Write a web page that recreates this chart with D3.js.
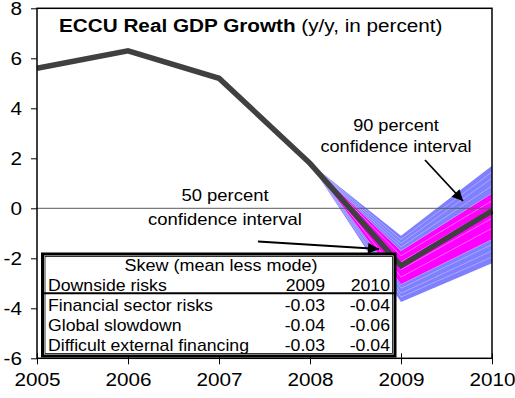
<!DOCTYPE html>
<html>
<head>
<meta charset="utf-8">
<script src="https://cdn.jsdelivr.net/npm/d3@7"></script>
<style>
  html, body { margin: 0; padding: 0; background: #ffffff; }
  svg { display: block; font-family: "Liberation Sans", Arial, sans-serif; }
</style>
</head>
<body>
<div id="chart"></div>
<script>
// ECCU real GDP growth, actuals and projection with fan of confidence bands
const years = [2005, 2006, 2007, 2008, 2009, 2010];
const growth = [5.6, 6.3, 5.2, 1.8, -2.3, -0.1];

// Fan chart quantiles (percent), for 2008, 2009, 2010
const fanYears = [2008, 2009, 2010];
const q05 = [1.8, -3.75, -2.2];
const q10 = [1.8, -3.55, -1.95];
const q15 = [1.8, -3.4, -1.7];
const q20 = [1.8, -3.2, -1.45];
const q25 = [1.8, -3.05, -1.25];
const q35 = [1.8, -2.75, -0.8];
const q45 = [1.8, -2.45, -0.4];
const q55 = [1.8, -2.15, 0.0];
const q65 = [1.8, -1.9, 0.3];
const q75 = [1.8, -1.7, 0.6];
const q80 = [1.8, -1.55, 0.9];
const q85 = [1.8, -1.4, 1.2];
const q90 = [1.8, -1.25, 1.45];
const q95 = [1.8, -1.1, 1.7];

// Axis ticks
const yTicks = [-6, -4, -2, 0, 2, 4, 6, 8];
const xTicks = [2005, 2006, 2007, 2008, 2009, 2010];

// Skew table
const skewTitle = "Skew (mean less mode)";
const skewHeader = ["Downside risks", "2009", "2010"];
const skewRisks = ["Financial sector risks", "Global slowdown", "Difficult external financing"];
const skew2009 = ["-0.03", "-0.04", "-0.03"];
const skew2010 = ["-0.04", "-0.06", "-0.04"];

const W = 515, H = 398;
const svg = d3.select("#chart").append("svg").attr("width", W).attr("height", H);

const x = d3.scaleLinear().domain([2005, 2010]).range([37, 492]);
const y = d3.scaleLinear().domain([-6, 8]).range([358.3, 8.3]);

// text with a slight horizontal widening, anchored at (px, py)
function txt(g, px, py, str, size, anchor, sx) {
  return g.append("text")
    .attr("transform", `translate(${px},${py}) scale(${sx},1)`)
    .attr("text-anchor", anchor)
    .attr("font-size", size)
    .attr("fill", "#000")
    .text(str);
}

const defs = svg.append("defs");
defs.append("marker")
  .attr("id", "arrowhead")
  .attr("viewBox", "0 0 10 10")
  .attr("refX", 10).attr("refY", 5)
  .attr("markerUnits", "userSpaceOnUse")
  .attr("markerWidth", 15).attr("markerHeight", 11)
  .attr("orient", "auto")
  .append("path").attr("d", "M0,0 L10,5 L0,10 Z").attr("fill", "#000");

// Fan bands: outer 90% (blue), inner 50% (magenta), each split into slices
const edges = [q05, q10, q15, q20, q25, q35, q45, q55, q65, q75, q80, q85, q90, q95];
const inner = new Set([4, 5, 6, 7, 8]); // slice indices inside the 50% interval
const area = d3.area()
  .x((d, i) => x(fanYears[i]))
  .y0(d => y(d[0]))
  .y1(d => y(d[1]));

const fan = svg.append("g");
for (let k = 0; k < edges.length - 1; k++) {
  const lo = edges[k], hi = edges[k + 1];
  const pts = fanYears.map((_, i) => [lo[i], hi[i]]);
  fan.append("path")
    .attr("d", area(pts))
    .attr("fill", inner.has(k) ? "#ff00ff" : "#8080ff")
    .attr("stroke", "none");
}
// faint lighter seams between slices
const seam = d3.line().x((d, i) => x(fanYears[i])).y(d => y(d));
edges.slice(1, -1).forEach((e, k) => {
  const isInner = k + 1 > 4 && k + 1 < 9;
  fan.append("path")
    .attr("d", seam(e))
    .attr("fill", "none")
    .attr("stroke", isInner ? "#ff70ff" : "#a8a8ff")
    .attr("stroke-width", 0.7);
});

// zero line
svg.append("line")
  .attr("x1", x(2005)).attr("x2", x(2010))
  .attr("y1", y(0)).attr("y2", y(0))
  .attr("stroke", "#5a5a5a").attr("stroke-width", 1);

// growth line
svg.append("path")
  .datum(years.map((yr, i) => [yr, growth[i]]))
  .attr("d", d3.line().x(d => x(d[0])).y(d => y(d[1])))
  .attr("fill", "none")
  .attr("stroke", "#404040")
  .attr("stroke-width", 5.5)
  .attr("stroke-linejoin", "miter");

// plot frame
svg.append("rect")
  .attr("x", x(2005)).attr("y", y(8))
  .attr("width", x(2010) - x(2005)).attr("height", y(-6) - y(8))
  .attr("fill", "none").attr("stroke", "#000").attr("stroke-width", 1.5);

// axes (plain hyphen for negatives)
const SX = 1.12;
const yAxis = d3.axisLeft(y).tickValues(yTicks).tickSize(6).tickPadding(9).tickFormat(d => String(d));
const gy = svg.append("g").attr("transform", `translate(${x(2005)},0)`).call(yAxis);
gy.select(".domain").remove();
gy.selectAll(".tick line").attr("stroke", "#000").attr("stroke-width", 1);
gy.selectAll(".tick text")
  .attr("font-size", 18.5).attr("fill", "#000")
  .attr("font-family", "Liberation Sans, Arial, sans-serif")
  .attr("x", -15 / SX)
  .attr("transform", `scale(${SX},1)`);

const xAxis = d3.axisBottom(x).tickValues(xTicks).tickSizeInner(6).tickSizeOuter(0).tickPadding(9).tickFormat(d => String(d));
const gx = svg.append("g").attr("transform", `translate(0,${y(-6)})`).call(xAxis);
gx.select(".domain").remove();
gx.selectAll(".tick line").attr("stroke", "#000").attr("stroke-width", 1).attr("y1", -5);
gx.selectAll(".tick text")
  .attr("font-size", 18.5).attr("fill", "#000")
  .attr("font-family", "Liberation Sans, Arial, sans-serif")
  .attr("transform", `scale(${SX},1)`);

// title
const title = svg.append("text")
  .attr("transform", `translate(59,31.5) scale(${SX},1)`)
  .attr("font-size", 18.5).attr("fill", "#000");
title.append("tspan").attr("font-weight", "bold").text("ECCU Real GDP Growth");
title.append("tspan").text(" (y/y, in percent)");

// annotations
txt(svg, 396, 131, "90 percent", 16.5, "middle", 1.1);
txt(svg, 396, 152, "confidence interval", 16.5, "middle", 1.1);
svg.append("line")
  .attr("x1", 425).attr("y1", 160).attr("x2", 463).attr("y2", 201)
  .attr("stroke", "#000").attr("stroke-width", 1.8).attr("marker-end", "url(#arrowhead)");

txt(svg, 225, 201, "50 percent", 16.5, "middle", 1.12);
txt(svg, 225, 225, "confidence interval", 16.5, "middle", 1.12);
svg.append("line")
  .attr("x1", 258).attr("y1", 241.5).attr("x2", 379).attr("y2", 249)
  .attr("stroke", "#000").attr("stroke-width", 1.8).attr("marker-end", "url(#arrowhead)");

// skew table
const tb = { x0: 42.5, y0: 254, x1: 395, y1: 356 };
const tg = svg.append("g");
tg.append("rect").attr("x", tb.x0).attr("y", tb.y0).attr("width", tb.x1 - tb.x0).attr("height", tb.y1 - tb.y0)
  .attr("fill", "#fff").attr("stroke", "#000").attr("stroke-width", 3);
tg.append("rect").attr("x", tb.x0 + 2.5).attr("y", tb.y0 + 2.5).attr("width", tb.x1 - tb.x0 - 5).attr("height", tb.y1 - tb.y0 - 5)
  .attr("fill", "none").attr("stroke", "#000").attr("stroke-width", 0.8);
tg.append("line").attr("x1", tb.x0).attr("x2", tb.x1).attr("y1", 293.3).attr("y2", 293.3)
  .attr("stroke", "#000").attr("stroke-width", 2);

const fs = 17, ts = 1.04;
txt(tg, 221, 271, skewTitle, fs, "middle", 1.06);
txt(tg, 48, 291, skewHeader[0], fs, "start", ts);
txt(tg, 325, 291, skewHeader[1], fs, "end", ts);
txt(tg, 390, 291, skewHeader[2], fs, "end", ts);
skewRisks.forEach((r, i) => {
  const yy = 311 + i * 20;
  txt(tg, 48, yy, r, fs, "start", ts);
  txt(tg, 325, yy, skew2009[i], fs, "end", ts);
  txt(tg, 390, yy, skew2010[i], fs, "end", ts);
});
</script>
</body>
</html>
